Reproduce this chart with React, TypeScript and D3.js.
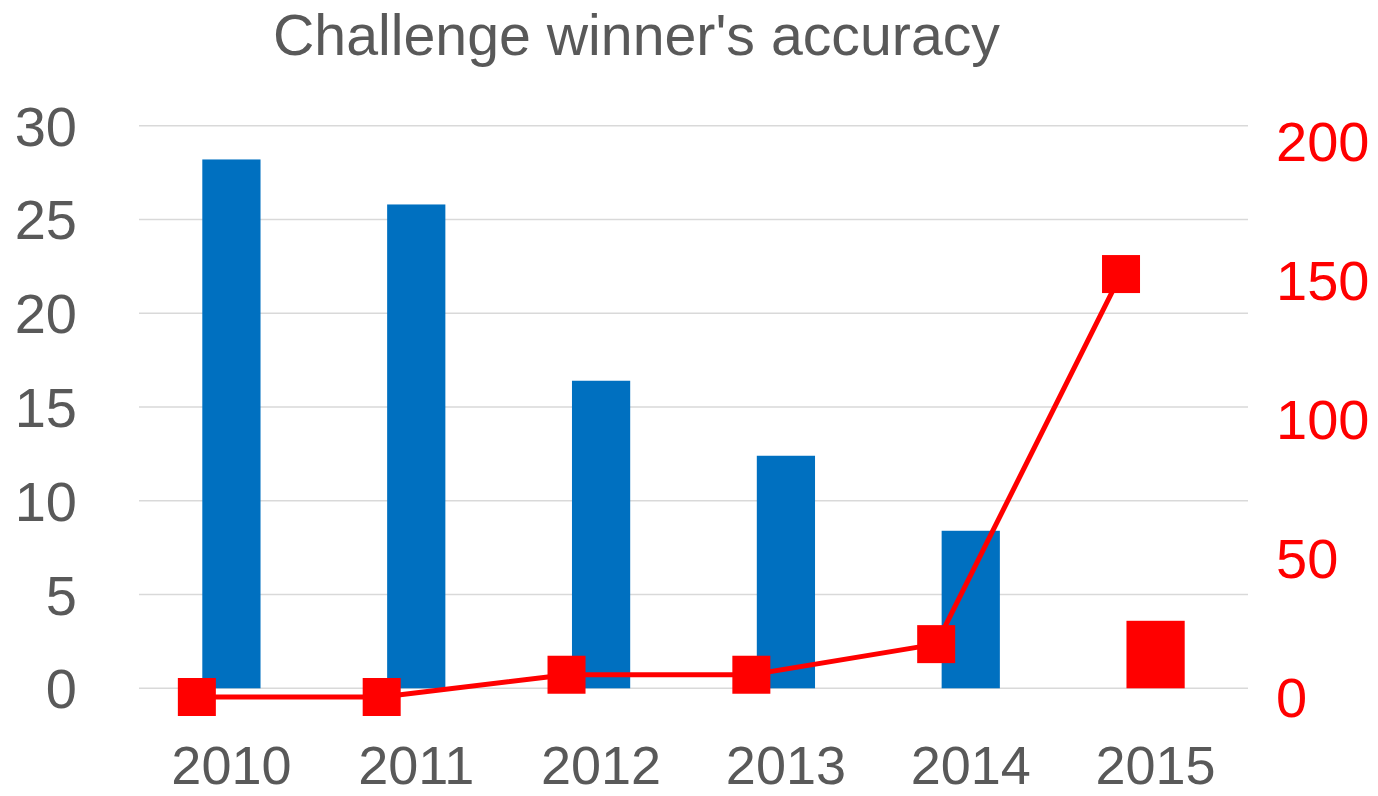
import React from "react";
import * as d3 from "d3";

const years = ["2010", "2011", "2012", "2013", "2014", "2015"];
const errorRates = [28.2, 25.8, 16.4, 12.4, 8.4, 3.6];
const barColors = ["#0070C0", "#0070C0", "#0070C0", "#0070C0", "#0070C0", "#FF0000"];
const layers = [0, 0, 8, 8, 19, 152];
const leftTicks = [0, 5, 10, 15, 20, 25, 30];
const rightTicks = [0, 50, 100, 150, 200];
const title = "Challenge winner's accuracy";

const W = 1378;
const H = 796;
const FONT = "'Liberation Sans', Arial, sans-serif";

export default function App() {
  const x = d3.scalePoint<string>().domain(years).range([139, 1248]).padding(0.5);
  const step = x.step();
  const barW = step * 0.315;
  const markerOffset = -step * 0.187;
  const yL = d3.scaleLinear().domain([0, 30]).range([688.3, 125.7]);
  const yR = d3.scaleLinear().domain([0, 200]).range([697, 140.5]);
  const line = d3
    .line<number>()
    .x((_, i) => (x(years[i]) as number) + markerOffset)
    .y((d) => yR(d));
  const ms = 38;

  return (
    <svg width={W} height={H} style={{ position: "absolute", left: 0, top: 0, background: "#fff" }}>
      <text
        x={273}
        y={55}
        fontFamily={FONT}
        fontSize={58}
        fill="#595959"
        textLength={727}
        lengthAdjust="spacingAndGlyphs"
      >
        {title}
      </text>
      {leftTicks.map((t) => (
        <line key={"g" + t} x1={139} x2={1248} y1={yL(t)} y2={yL(t)} stroke="#d9d9d9" strokeWidth={1.5} />
      ))}
      {leftTicks.map((t) => (
        <text
          key={"l" + t}
          x={77}
          y={yL(t) + 20}
          textAnchor="end"
          fontFamily={FONT}
          fontSize={56}
          fill="#595959"
        >
          {t}
        </text>
      ))}
      {rightTicks.map((t) => (
        <text key={"r" + t} x={1276} y={yR(t) + 20} fontFamily={FONT} fontSize={56} fill="#FF0000">
          {t}
        </text>
      ))}
      {errorRates.map((v, i) => (
        <rect
          key={"b" + i}
          x={(x(years[i]) as number) - barW / 2}
          y={yL(v)}
          width={barW}
          height={yL(0) - yL(v)}
          fill={barColors[i]}
        />
      ))}
      <path d={line(layers) || ""} fill="none" stroke="#FF0000" strokeWidth={5} strokeLinejoin="round" />
      {layers.map((v, i) => (
        <rect
          key={"m" + i}
          x={(x(years[i]) as number) + markerOffset - ms / 2}
          y={yR(v) - ms / 2}
          width={ms}
          height={ms}
          fill="#FF0000"
        />
      ))}
      {years.map((yr) => (
        <text
          key={"x" + yr}
          x={x(yr) as number}
          y={784}
          textAnchor="middle"
          fontFamily={FONT}
          fontSize={54}
          fill="#595959"
        >
          {yr}
        </text>
      ))}
    </svg>
  );
}
